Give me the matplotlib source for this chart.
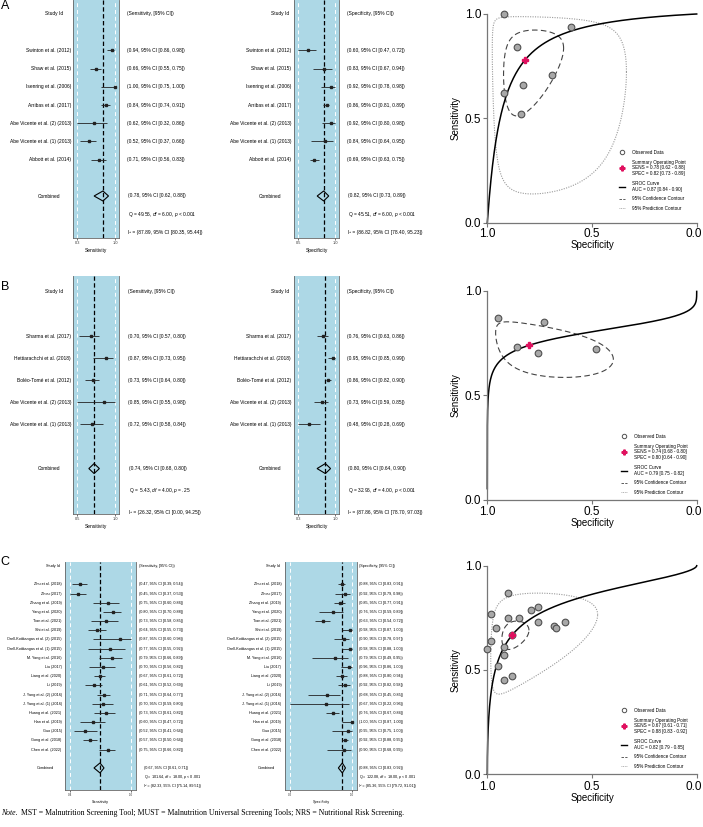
import numpy as np
import matplotlib
matplotlib.use("Agg")
import matplotlib.pyplot as plt
import matplotlib.transforms as mtransforms
from matplotlib.lines import Line2D

plt.rcParams['font.family'] = ['Liberation Sans', 'DejaVu Sans']
plt.rcParams['mathtext.fontset'] = 'custom'
plt.rcParams['mathtext.rm'] = 'Liberation Sans'
plt.rcParams['mathtext.it'] = 'Liberation Sans:italic'

W, H = 703, 827

# ---------------- panel A data ----------------
a_studies = ["Swinton et al. (2012)", "Shaw et al. (2015)", "Isenring et al. (2006)",
             "Arribas et al. (2017)", "Abe Vicente et al. (2) (2013)",
             "Abe Vicente et al. (1) (2013)", "Abbott et al. (2014)"]
a_sens = [0.94, 0.66, 1.00, 0.84, 0.62, 0.52, 0.71]
a_sens_lo = [0.86, 0.55, 0.75, 0.74, 0.32, 0.37, 0.56]
a_sens_hi = [0.98, 0.75, 1.00, 0.91, 0.86, 0.66, 0.83]
a_spec = [0.60, 0.83, 0.92, 0.86, 0.92, 0.84, 0.69]
a_spec_lo = [0.47, 0.67, 0.78, 0.81, 0.80, 0.64, 0.63]
a_spec_hi = [0.72, 0.94, 0.98, 0.89, 0.98, 0.95, 0.75]
a_sens_sum = [0.78, 0.62, 0.88]
a_spec_sum = [0.82, 0.73, 0.89]
a_sens_stats = ["49.56", "6.00", "< 0.001", "87.89", "80.35", "95.44"]
a_spec_stats = ["45.51", "6.00", "< 0.001", "86.82", "78.40", "95.23"]
a_sens_ticks = ["0.3", "1.0"]
a_spec_ticks = ["0.5", "1.0"]
a_auc = "0.87 [0.84 - 0.90]"

# ---------------- panel B data ----------------
b_studies = ["Sharma et al. (2017)", "Hettiarachchi et al. (2018)", "Boléo-Tomé et al. (2012)",
             "Abe Vicente et al. (2) (2013)", "Abe Vicente et al. (1) (2013)"]
b_sens = [0.70, 0.87, 0.73, 0.85, 0.72]
b_sens_lo = [0.57, 0.73, 0.64, 0.55, 0.58]
b_sens_hi = [0.80, 0.95, 0.80, 0.98, 0.84]
b_spec = [0.76, 0.95, 0.86, 0.73, 0.48]
b_spec_lo = [0.63, 0.85, 0.82, 0.59, 0.28]
b_spec_hi = [0.86, 0.99, 0.90, 0.85, 0.69]
b_sens_sum = [0.74, 0.68, 0.80]
b_spec_sum = [0.80, 0.64, 0.90]
b_sens_stats = [" 5.43", "4.00", "= .25", "26.32", "0.00", "94.25"]
b_spec_stats = ["32.96", "4.00", "< 0.001", "87.86", "78.70", "97.03"]
b_sens_ticks = ["0.5", "1.0"]
b_spec_ticks = ["0.3", "1.0"]
b_auc = "0.79 [0.75 - 0.82]"

# ---------------- panel C data ----------------
c_studies = ["Zhu et al. (2018)", "Zhou (2017)", "Zhang et al. (2019)", "Yang et al. (2020)",
             "Tian et al. (2021)", "Shi et al. (2019)", "Orell-Kotikangas et al. (2) (2015)",
             "Orell-Kotikangas et al. (1) (2015)", "M. Yang et al. (2016)", "Liu (2017)",
             "Liang et al. (2020)", "Li (2019)", "J. Yang et al. (2) (2016)",
             "J. Yang et al. (1) (2016)", "Huang et al. (2021)", "Han et al. (2019)",
             "Guo (2015)", "Gong et al. (2018)", "Chen et al. (2022)"]
c_sens = [0.47, 0.45, 0.75, 0.80, 0.73, 0.64, 0.87, 0.77, 0.79, 0.70,
          0.67, 0.61, 0.71, 0.70, 0.73, 0.60, 0.52, 0.57, 0.75]
c_sens_lo = [0.39, 0.37, 0.60, 0.70, 0.58, 0.55, 0.60, 0.55, 0.66, 0.56,
             0.61, 0.52, 0.64, 0.59, 0.61, 0.47, 0.41, 0.50, 0.66]
c_sens_hi = [0.54, 0.53, 0.86, 0.88, 0.85, 0.73, 0.98, 0.92, 0.89, 0.82,
             0.72, 0.69, 0.77, 0.80, 0.82, 0.72, 0.64, 0.64, 0.82]
c_spec = [0.88, 0.92, 0.85, 0.76, 0.63, 0.98, 0.90, 0.98, 0.79, 0.96,
          0.88, 0.92, 0.68, 0.67, 0.76, 1.00, 0.95, 0.92, 0.90]
c_spec_lo = [0.83, 0.79, 0.77, 0.59, 0.54, 0.87, 0.78, 0.88, 0.49, 0.86,
             0.80, 0.82, 0.45, 0.22, 0.67, 0.87, 0.75, 0.88, 0.68]
c_spec_hi = [0.91, 0.98, 0.91, 0.89, 0.72, 1.00, 0.97, 1.00, 0.95, 1.00,
             0.94, 0.98, 0.85, 0.96, 0.84, 1.00, 1.00, 0.95, 0.99]
c_sens_sum = [0.67, 0.61, 0.71]
c_spec_sum = [0.88, 0.83, 0.92]
c_sens_stats = ["101.64", "18.00", "< 0.001", "82.33", "75.14", "89.51"]
c_spec_stats = ["122.08", "18.00", "< 0.001", "85.36", "79.72", "91.01"]
c_sens_ticks = ["0.4", "1.0"]
c_spec_ticks = ["0.2", "1.0"]
c_auc = "0.82 [0.79 - 0.85]"

# SROC model: logit(sens) = a + b * logit(fpr)
sroc_a = [2.84, 1.41, 1.84]
sroc_b = [1.04, 0.265, 0.57]
# contours in logit space: half-width fpr, half-width sens, correlation
conf_shape = [(0.96, 1.22, 0.30), (1.80, 0.70, -0.47), (0.60, 0.31, 0.30)]
pred_shape = [(2.20, 3.10, -0.10), None, (2.10, 1.18, 0.40)]

fig = plt.figure(figsize=(W / 100, H / 100), dpi=100)
BLUE = '#ADD8E6'
RED = '#E0115F'


def logit(p):
    return np.log(p / (1 - p))


def expit(x):
    return 1 / (1 + np.exp(-x))


def forest(box, y_head, dy, names, est, lo, hi, summ, stats, tick_lbls, label, cols, fs, pad):
    l, t, r, b = box
    ax = fig.add_axes([l / W, 1 - b / H, (r - l) / W, (b - t) / H])
    n = len(names)
    rows = np.arange(n) + 2
    ticks = [min(lo), max(hi)]
    span = ticks[1] - ticks[0]
    ax.set_xlim(ticks[0] - pad * span, ticks[1] + pad * span)
    ax.set_ylim((b - y_head) / dy, (t - y_head) / dy)
    ax.set_facecolor(BLUE)
    for xv in ticks:
        ax.axvline(xv, color='white', ls=(0, (4, 3)), lw=0.7)
    ax.axvline(summ[0], color='black', ls=(0, (3.5, 2)), lw=0.9)
    ax.hlines(rows, lo, hi, color='#222222', lw=0.6)
    ax.plot(est, rows, 's', color='#222222', ms=1.7)
    yc = n + 3
    h = 5.0 / dy
    ax.fill([summ[1], summ[0], summ[2], summ[0]], [yc, yc - h, yc, yc + h],
            facecolor='none', edgecolor='black', lw=0.8)

    ax.set_xticks(ticks)
    ax.set_xticklabels(tick_lbls)
    ax.set_yticks([])
    ax.tick_params(axis='x', length=1.5, width=0.5, pad=1, labelsize=fs * 0.8, colors='#333333')
    ax.set_xlabel(label, fontsize=fs, labelpad=1.5)
    for s in ['left', 'right', 'bottom']:
        ax.spines[s].set_color('#666666')
        ax.spines[s].set_linewidth(0.6)
    ax.spines['top'].set_visible(False)

    tr = mtransforms.blended_transform_factory(fig.transFigure, ax.transData)
    name_x, head_x, comb_x, ci_x, stat_x = cols
    ax.text(head_x / W, 0, "Study Id", transform=tr, ha='right', va='center', fontsize=fs)
    ax.text(ci_x / W, 0, f"({label}, [95% CI])", transform=tr, ha='left', va='center', fontsize=fs)
    for i in range(n):
        ax.text(name_x / W, rows[i], names[i], transform=tr, ha='right', va='center', fontsize=fs)
        ax.text(ci_x / W, rows[i], f"({est[i]:.2f}, 95% CI [{lo[i]:.2f}, {hi[i]:.2f}])",
                transform=tr, ha='left', va='center', fontsize=fs)
    ax.text(comb_x / W, yc, "Combined", transform=tr, ha='center', va='center', fontsize=fs)
    ax.text(stat_x / W, yc, f"({summ[0]:.2f}, 95% CI [{summ[1]:.2f}, {summ[2]:.2f}])",
            transform=tr, ha='left', va='center', fontsize=fs)
    ax.text(stat_x / W, yc + 1, f"Q = {stats[0]}, $df$ = {stats[1]}, $p$ {stats[2]}",
            transform=tr, ha='left', va='center', fontsize=fs)
    ax.text(stat_x / W, yc + 2, f"I² = ({stats[3]}, 95% CI [{stats[4]}, {stats[5]}])",
            transform=tr, ha='left', va='center', fontsize=fs)
    return ax


def sroc(k, t, b, spec, sens, s_sens, s_spec, auc, leg_xy, tpad, lpad):
    l, r = 487.3, 696.7
    ax = fig.add_axes([l / W, 1 - b / H, (r - l) / W, (b - t) / H])
    ax.set_xlim(1, 0)
    ax.set_ylim(0, 1)
    mu_x = logit(1 - s_spec[0])
    mu_y = logit(s_sens[0])
    tt = np.linspace(0, 2 * np.pi, 300)
    pr = pred_shape[k]
    if pr is not None:
        sx, sy, rho = pr
        ex = mu_x + sx * np.cos(tt)
        ey = mu_y + sy * (rho * np.cos(tt) + np.sqrt(1 - rho ** 2) * np.sin(tt))
        ax.plot(1 - expit(ex), expit(ey), color='#9a9a9a', lw=0.8, ls=(0, (1, 1.2)), clip_on=False)
    sx, sy, rho = conf_shape[k]
    ex = mu_x + sx * np.cos(tt)
    ey = mu_y + sy * (rho * np.cos(tt) + np.sqrt(1 - rho ** 2) * np.sin(tt))
    ax.plot(1 - expit(ex), expit(ey), color='#444444', lw=0.8, ls=(0, (5, 3)))
    fpr = np.concatenate([np.logspace(-7, -1, 200), np.linspace(0.1, 0.9, 200), 1 - np.logspace(-1, -7, 200)])
    ax.plot(1 - fpr, expit(sroc_a[k] + sroc_b[k] * logit(fpr)), color='black', lw=1.1, clip_on=False)
    ax.plot(spec, sens, 'o', mfc='#a8a8a8', mec='#505050', ms=4.8, mew=0.8, clip_on=False, zorder=3)
    ax.plot(s_spec[0], s_sens[0], 'P', color=RED, ms=4.8, clip_on=False, zorder=4)

    ax.set_xticks([1.0, 0.5, 0.0])
    ax.set_xticklabels(["1.0", "0.5", "0.0"])
    ax.set_yticks([0.0, 0.5, 1.0])
    ax.set_yticklabels(["0.0", "0.5", "1.0"])
    ax.tick_params(length=3, width=0.8, color='#777777', labelsize=8.5, pad=1.5)
    ax.tick_params(axis='x', pad=tpad)
    last = ax.get_xticklabels()[-1]
    last.set_horizontalalignment('right')
    last.set_transform(last.get_transform() + mtransforms.ScaledTranslation(5 / 100, 0, fig.dpi_scale_trans))
    ax.set_xlabel("Specificity", fontsize=7, labelpad=lpad)
    ax.set_ylabel("Sensitivity", fontsize=7, labelpad=3)
    for s in ['top', 'right']:
        ax.spines[s].set_visible(False)
    for s in ['left', 'bottom']:
        ax.spines[s].set_color('#777777')
        ax.spines[s].set_linewidth(0.9)

    handles = [Line2D([], [], ls='none', marker='o', mfc='none', mec='#505050', ms=3.2, mew=0.7),
               Line2D([], [], ls='none', marker='P', color=RED, ms=3.5),
               Line2D([], [], color='black', lw=1.0),
               Line2D([], [], color='#444444', lw=0.6, ls=(0, (3, 1.5))),
               Line2D([], [], color='#9a9a9a', lw=0.6, ls=(0, (1, 1)))]
    labels = ["Observed Data",
              "Summary Operating Point\nSENS = {:.2f} [{:.2f} - {:.2f}]\nSPEC = {:.2f} [{:.2f} - {:.2f}]".format(
                  *s_sens, *s_spec),
              "SROC Curve\nAUC = " + auc,
              "95% Confidence Contour",
              "95% Prediction Contour"]
    ax.legend(handles, labels, loc='upper left', bbox_to_anchor=(leg_xy[0] / W, 1 - leg_xy[1] / H),
              bbox_transform=fig.transFigure, frameon=False, fontsize=3.3, handlelength=1.2,
              handletextpad=1.6, labelspacing=1.0, borderpad=0, borderaxespad=0)
    return ax


# ---- panel A
forest((73.3, 0, 119.3, 238), 14, 18.2, a_studies, a_sens, a_sens_lo, a_sens_hi, a_sens_sum,
       a_sens_stats, a_sens_ticks, "Sensitivity", (71, 63, 49, 127.3, 128), 3.5, 0.11)
forest((294.3, 0, 339.3, 238), 14, 18.2, a_studies, a_spec, a_spec_lo, a_spec_hi, a_spec_sum,
       a_spec_stats, a_spec_ticks, "Specificity", (291, 289, 269.7, 346.7, 348), 3.5, 0.11)
sroc(0, 14, 222.7, a_spec, a_sens, a_sens_sum, a_spec_sum, a_auc, (619, 150), 0.5, 0)

# ---- panel B
forest((73.3, 276, 119.3, 514), 292, 22.07, b_studies, b_sens, b_sens_lo, b_sens_hi, b_sens_sum,
       b_sens_stats, b_sens_ticks, "Sensitivity", (71, 63, 49, 128.3, 129), 3.5, 0.11)
forest((294.3, 276, 339.3, 514), 292, 22.07, b_studies, b_spec, b_spec_lo, b_spec_hi, b_spec_sum,
       b_spec_stats, b_spec_ticks, "Specificity", (291, 289, 269.7, 347.3, 348), 3.5, 0.11)
sroc(1, 290.7, 500, b_spec, b_sens, b_sens_sum, b_spec_sum, b_auc, (621, 434), 1.5, 0)

# ---- panel C
forest((65, 562, 136, 790), 566, 9.18, c_studies, c_sens, c_sens_lo, c_sens_hi, c_sens_sum,
       c_sens_stats, c_sens_ticks, "Sensitivity", (61.7, 60, 45, 138.7, 144), 2.7, 0.08)
forest((285.3, 562, 356.7, 790), 566, 9.18, c_studies, c_spec, c_spec_lo, c_spec_hi, c_spec_sum,
       c_spec_stats, c_spec_ticks, "Specificity", (281.3, 280, 266, 358.7, 359), 2.7, 0.08)
sroc(2, 565.7, 774.3, c_spec, c_sens, c_sens_sum, c_spec_sum, c_auc, (621, 708), 1.5, 0)

# panel letters
for letter, yy in [("A", 6), ("B", 287), ("C", 562)]:
    fig.text(0.5 / W, 1 - yy / H, letter, fontsize=9, ha='left', va='center')

# note line
fig.canvas.draw()
rend = fig.canvas.get_renderer()
note_y = 1 - 813 / H
t1 = fig.text(1.5 / W, note_y, "Note.", fontsize=5.6, family='Liberation Serif', style='italic',
              ha='left', va='center')
bb = t1.get_window_extent(renderer=rend)
fig.text((bb.x1 + 2.5) / W, note_y,
         "MST = Malnutrition Screening Tool; MUST = Malnutrition Universal Screening Tools; "
         "NRS = Nutritional Risk Screening.",
         fontsize=5.6, family='Liberation Serif', ha='left', va='center')

fig.savefig("out.png", dpi=100)
